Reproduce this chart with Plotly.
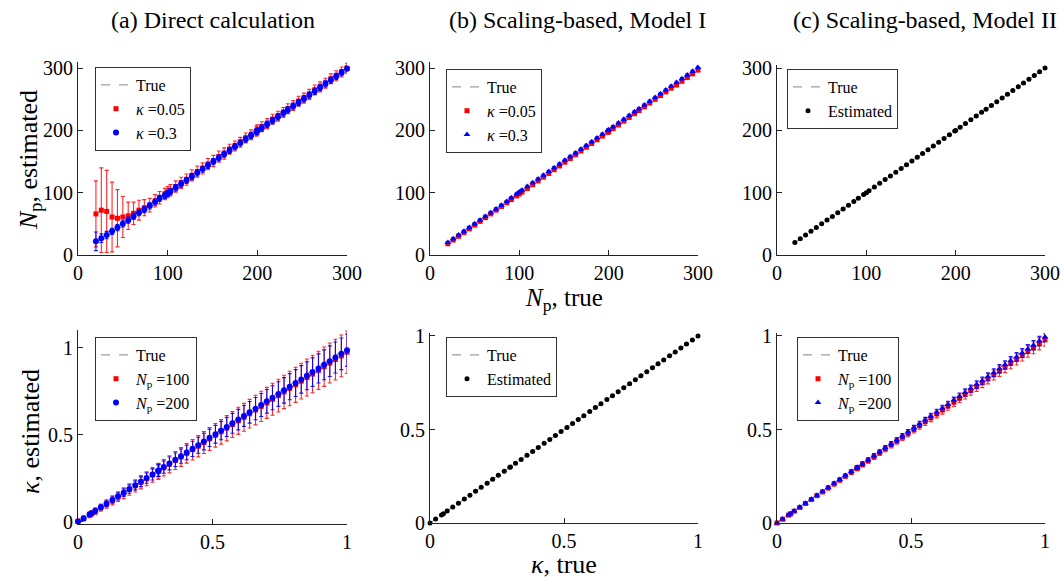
import plotly.graph_objects as go

# ---------------- data ----------------
NP_TRUE = [20, 26, 32, 38, 44, 50, 56, 62, 68, 74, 80, 86, 91, 97, 100, 103, 109, 115, 121, 127,
           133, 139, 145, 151, 157, 163, 169, 175, 181, 187, 193, 199, 200, 205, 211, 217, 223, 229, 234, 240,
           246, 252, 258, 264, 270, 276, 282, 288, 294, 300]

# (a) direct calculation, N_p
A_NP_K005 = [66, 72, 70, 61, 59, 61, 63, 67, 72, 76, 80, 87, 92, 98, 101, 104, 110, 116, 121, 128,
             134, 139, 146, 151, 158, 163, 170, 175, 181, 188, 193, 199, 201, 206, 211, 218, 223, 229, 235, 240,
             247, 252, 258, 265, 270, 276, 283, 288, 294, 300]
A_NP_K005_ERR = [53, 68, 66, 56, 46, 33, 22, 18, 16, 13, 11, 10, 10, 9, 9, 9, 9, 9, 9, 9,
                 9, 9, 9, 9, 9, 9, 8, 8, 8, 8, 8, 8, 8, 8, 8, 8, 8, 8, 8, 8,
                 8, 8, 8, 8, 8, 8, 8, 8, 8, 8]
A_NP_K03 = [22, 27, 32, 38, 44, 50, 56, 62, 68, 73, 79, 85, 91, 96, 99, 102, 108, 114, 120, 126,
            132, 138, 144, 150, 156, 162, 168, 174, 180, 186, 192, 198, 199, 204, 210, 216, 222, 228, 233, 239,
            245, 251, 257, 263, 269, 275, 281, 287, 293, 299]
A_NP_K03_ERR = [15, 7, 6, 5, 5, 5, 5, 5, 5, 5, 5, 5, 5, 5, 5, 5, 5, 5, 5, 5,
                5, 5, 5, 5, 5, 5, 5, 5, 5, 5, 5, 5, 5, 5, 5, 5, 5, 5, 5, 5,
                5, 5, 5, 5, 5, 5, 5, 5, 5, 5]

# (b) scaling-based Model I, N_p
B_NP_K005 = [18, 24, 30, 36, 42, 48, 54, 60, 66, 72, 78, 84, 89, 95, 98, 101, 107, 113, 119, 125,
             131, 137, 143, 149, 155, 161, 167, 173, 179, 185, 191, 197, 198, 203, 209, 215, 221, 227, 232, 238,
             244, 250, 256, 262, 268, 273, 279, 285, 291, 297]
B_NP_K03 = [20, 26, 32, 38, 44, 50, 56, 62, 68, 74, 80, 86, 92, 98, 101, 104, 110, 116, 122, 128,
            134, 140, 146, 152, 158, 164, 170, 176, 182, 188, 194, 200, 201, 206, 212, 218, 224, 230, 235, 241,
            247, 253, 259, 265, 271, 277, 283, 289, 295, 301]

# (c) scaling-based Model II, N_p
C_NP_EST = [20, 26, 32, 38, 44, 50, 56, 62, 68, 74, 80, 86, 91, 97, 100, 103, 109, 115, 121, 127,
            133, 139, 145, 151, 157, 163, 169, 175, 181, 187, 193, 199, 200, 205, 211, 217, 223, 229, 234, 240,
            246, 252, 258, 264, 270, 276, 282, 288, 294, 300]

KAPPA_TRUE = [0, 0.021, 0.043, 0.05, 0.064, 0.085, 0.106, 0.128, 0.149, 0.17,
              0.191, 0.213, 0.234, 0.255, 0.277, 0.298, 0.3, 0.319, 0.34, 0.362,
              0.383, 0.404, 0.426, 0.447, 0.468, 0.489, 0.511, 0.532, 0.553, 0.574,
              0.596, 0.617, 0.638, 0.66, 0.681, 0.702, 0.723, 0.745, 0.766, 0.787,
              0.809, 0.83, 0.851, 0.872, 0.894, 0.915, 0.936, 0.957, 0.979, 1.0]

# (a) direct calculation, kappa
A_K_NP100 = [0.004, 0.02, 0.041, 0.048, 0.062, 0.082, 0.103, 0.124, 0.145, 0.165,
             0.186, 0.207, 0.228, 0.248, 0.27, 0.29, 0.292, 0.311, 0.331, 0.353,
             0.373, 0.394, 0.415, 0.435, 0.456, 0.477, 0.498, 0.518, 0.539, 0.56,
             0.581, 0.601, 0.622, 0.643, 0.664, 0.684, 0.705, 0.726, 0.747, 0.767,
             0.788, 0.809, 0.83, 0.85, 0.871, 0.892, 0.913, 0.933, 0.954, 0.975]
A_K_NP100_ERR = [0.012, 0.014, 0.017, 0.018, 0.019, 0.021, 0.024, 0.026, 0.028, 0.031,
                 0.033, 0.035, 0.038, 0.040, 0.042, 0.045, 0.045, 0.047, 0.049, 0.052,
                 0.054, 0.056, 0.059, 0.061, 0.063, 0.066, 0.068, 0.071, 0.073, 0.075,
                 0.078, 0.080, 0.082, 0.085, 0.087, 0.089, 0.092, 0.094, 0.096, 0.099,
                 0.101, 0.103, 0.106, 0.108, 0.110, 0.113, 0.115, 0.117, 0.120, 0.122]
A_K_NP200 = [0.003, 0.021, 0.042, 0.049, 0.063, 0.084, 0.105, 0.126, 0.147, 0.168,
             0.189, 0.21, 0.231, 0.252, 0.273, 0.294, 0.296, 0.315, 0.336, 0.357,
             0.378, 0.399, 0.42, 0.441, 0.462, 0.483, 0.504, 0.525, 0.546, 0.567,
             0.588, 0.609, 0.63, 0.651, 0.672, 0.693, 0.714, 0.735, 0.756, 0.777,
             0.798, 0.819, 0.84, 0.861, 0.882, 0.903, 0.924, 0.945, 0.966, 0.987]
A_K_NP200_ERR = [0.008, 0.010, 0.012, 0.012, 0.013, 0.015, 0.017, 0.019, 0.021, 0.022,
                 0.024, 0.026, 0.028, 0.030, 0.032, 0.033, 0.034, 0.035, 0.037, 0.039,
                 0.041, 0.042, 0.044, 0.046, 0.048, 0.050, 0.051, 0.053, 0.055, 0.057,
                 0.059, 0.060, 0.062, 0.064, 0.066, 0.068, 0.069, 0.071, 0.073, 0.075,
                 0.077, 0.079, 0.080, 0.082, 0.084, 0.086, 0.088, 0.089, 0.091, 0.093]

# (b) scaling-based Model I, kappa
B_K_EST = [0, 0.021, 0.043, 0.05, 0.064, 0.085, 0.106, 0.128, 0.149, 0.17,
           0.191, 0.213, 0.234, 0.255, 0.277, 0.298, 0.3, 0.319, 0.34, 0.362,
           0.383, 0.404, 0.426, 0.447, 0.468, 0.489, 0.511, 0.532, 0.553, 0.574,
           0.596, 0.617, 0.638, 0.66, 0.681, 0.702, 0.723, 0.745, 0.766, 0.787,
           0.809, 0.83, 0.851, 0.872, 0.894, 0.915, 0.936, 0.957, 0.979, 1.0]

# (c) scaling-based Model II, kappa
C_K_NP100 = [0.0, 0.02, 0.042, 0.049, 0.063, 0.083, 0.104, 0.125, 0.146, 0.166,
             0.187, 0.208, 0.229, 0.25, 0.271, 0.292, 0.294, 0.313, 0.333, 0.354,
             0.375, 0.396, 0.417, 0.437, 0.458, 0.479, 0.5, 0.521, 0.542, 0.562,
             0.583, 0.604, 0.625, 0.646, 0.667, 0.687, 0.708, 0.729, 0.75, 0.771,
             0.792, 0.812, 0.833, 0.854, 0.875, 0.896, 0.917, 0.937, 0.958, 0.979]
C_K_NP100_ERR = [0.003, 0.004, 0.004, 0.005, 0.005, 0.006, 0.006, 0.007, 0.007, 0.008,
                 0.009, 0.009, 0.010, 0.011, 0.011, 0.012, 0.012, 0.013, 0.013, 0.014,
                 0.014, 0.015, 0.016, 0.016, 0.017, 0.018, 0.018, 0.019, 0.020, 0.020,
                 0.021, 0.022, 0.022, 0.023, 0.023, 0.024, 0.025, 0.025, 0.026, 0.027,
                 0.027, 0.028, 0.029, 0.029, 0.030, 0.030, 0.031, 0.032, 0.032, 0.033]
C_K_NP200 = [0.0, 0.021, 0.043, 0.05, 0.064, 0.085, 0.106, 0.127, 0.148, 0.169,
             0.19, 0.212, 0.233, 0.254, 0.275, 0.296, 0.298, 0.317, 0.338, 0.36,
             0.381, 0.402, 0.423, 0.444, 0.465, 0.486, 0.508, 0.529, 0.55, 0.571,
             0.592, 0.613, 0.634, 0.656, 0.677, 0.698, 0.719, 0.74, 0.761, 0.782,
             0.804, 0.825, 0.846, 0.867, 0.888, 0.909, 0.93, 0.951, 0.973, 0.994]
C_K_NP200_ERR = [0.002, 0.003, 0.003, 0.003, 0.004, 0.004, 0.005, 0.005, 0.006, 0.006,
                 0.007, 0.007, 0.008, 0.008, 0.009, 0.009, 0.009, 0.010, 0.010, 0.011,
                 0.011, 0.012, 0.012, 0.013, 0.013, 0.014, 0.014, 0.015, 0.015, 0.016,
                 0.016, 0.017, 0.017, 0.018, 0.018, 0.019, 0.019, 0.020, 0.020, 0.021,
                 0.021, 0.022, 0.022, 0.023, 0.023, 0.024, 0.024, 0.025, 0.025, 0.026]

TITLES = ["(a) Direct calculation", "(b) Scaling-based, Model I", "(c) Scaling-based, Model II"]
NP_TICKS = [0, 100, 200, 300]
K_TICKS = [0, 0.5, 1]
K_TICKTEXT = ["0", "0.5", "1"]

# ---------------- style ----------------
FONT = "Liberation Serif"
W, H = 1062, 580
RED = "#ff0000"
BLUE = "#0000ff"
RED_ERR = "rgba(255,0,0,0.85)"
BLUE_ERR = "rgba(0,0,255,0.9)"


def fx(p):
    return p / W


def fy(p):
    return 1 - p / H


fig = go.Figure()


def true_line(x, xa, ya, leg):
    fig.add_trace(go.Scatter(x=x, y=x, mode="lines", name="True",
                             line=dict(color="#888888", width=1, dash="dash"),
                             xaxis=xa, yaxis=ya, legend=leg, cliponaxis=False))


def err_trace(x, y, err, name, color, ecolor, symbol, size, xa, ya, leg):
    ey = dict(visible=True, color=ecolor, thickness=1.1, width=2)
    if isinstance(err, (int, float)):
        ey.update(type="constant", value=err)
    else:
        ey.update(type="data", array=err)
    fig.add_trace(go.Scatter(x=x, y=y, mode="markers", name=name,
                             marker=dict(color=color, symbol=symbol, size=size, line=dict(width=0)),
                             error_y=ey, xaxis=xa, yaxis=ya, legend=leg, cliponaxis=False))


KAP = "<i>κ</i>"
NP = "<i>N</i><sub>p</sub>"

# top row
true_line(NP_TRUE, "x", "y", "legend")
err_trace(NP_TRUE, A_NP_K005, A_NP_K005_ERR, KAP + " =0.05", RED, RED_ERR, "square", 5, "x", "y", "legend")
err_trace(NP_TRUE, A_NP_K03, A_NP_K03_ERR, KAP + " =0.3", BLUE, BLUE_ERR, "circle", 6, "x", "y", "legend")

true_line(NP_TRUE, "x2", "y2", "legend2")
err_trace(NP_TRUE, B_NP_K005, 2, KAP + " =0.05", RED, RED_ERR, "square", 5, "x2", "y2", "legend2")
err_trace(NP_TRUE, B_NP_K03, 2, KAP + " =0.3", BLUE, BLUE_ERR, "triangle-up", 6, "x2", "y2", "legend2")

true_line(NP_TRUE, "x3", "y3", "legend3")
err_trace(NP_TRUE, C_NP_EST, 1, "Estimated", "black", "black", "circle", 5, "x3", "y3", "legend3")

# bottom row
true_line(KAPPA_TRUE, "x4", "y4", "legend4")
err_trace(KAPPA_TRUE, A_K_NP100, A_K_NP100_ERR, NP + " =100", RED, RED_ERR, "square", 5, "x4", "y4", "legend4")
err_trace(KAPPA_TRUE, A_K_NP200, A_K_NP200_ERR, NP + " =200", BLUE, BLUE_ERR, "circle", 6, "x4", "y4", "legend4")

true_line(KAPPA_TRUE, "x5", "y5", "legend5")
err_trace(KAPPA_TRUE, B_K_EST, 0.003, "Estimated", "black", "black", "circle", 5, "x5", "y5", "legend5")

true_line(KAPPA_TRUE, "x6", "y6", "legend6")
err_trace(KAPPA_TRUE, C_K_NP100, C_K_NP100_ERR, NP + " =100", RED, RED_ERR, "square", 5, "x6", "y6", "legend6")
err_trace(KAPPA_TRUE, C_K_NP200, C_K_NP200_ERR, NP + " =200", BLUE, BLUE_ERR, "triangle-up", 6, "x6", "y6", "legend6")

# ---------------- axes ----------------
TICKFONT = dict(family=FONT, size=20, color="black")


def axis_common():
    return dict(showline=True, linecolor="#222222", linewidth=1, mirror=False,
                ticks="inside", ticklen=5, tickwidth=1, tickcolor="#222222",
                showgrid=False, zeroline=False, tickfont=TICKFONT, fixedrange=True,
                automargin=False)


XD = [(78, 347), (430, 698), (777, 1045)]
TOP_Y = [(62, 255, [0, 310]), (62, 255, [0, 310]), (65, 255, [0, 305])]
BOT_Y = [(330, 524, [-0.012, 1.103]), (333, 523, [0, 1.016]), (333, 523, [0, 1.016])]

layout_axes = {}
for i in range(3):
    n = i + 1
    xs = "xaxis" if n == 1 else f"xaxis{n}"
    ys = "yaxis" if n == 1 else f"yaxis{n}"
    ax = axis_common()
    ax.update(domain=[fx(XD[i][0]), fx(XD[i][1])], range=[0, 300], tickvals=NP_TICKS,
              anchor="y" if n == 1 else f"y{n}")
    layout_axes[xs] = ax
    ay = axis_common()
    ay.update(domain=[fy(TOP_Y[i][1]), fy(TOP_Y[i][0])], range=TOP_Y[i][2], tickvals=NP_TICKS,
              anchor="x" if n == 1 else f"x{n}")
    layout_axes[ys] = ay

for i in range(3):
    n = i + 4
    ax = axis_common()
    ax.update(domain=[fx(XD[i][0]), fx(XD[i][1])], range=[0, 1], tickvals=K_TICKS, ticktext=K_TICKTEXT,
              anchor=f"y{n}")
    layout_axes[f"xaxis{n}"] = ax
    ay = axis_common()
    ay.update(domain=[fy(BOT_Y[i][1]), fy(BOT_Y[i][0])], range=BOT_Y[i][2], tickvals=K_TICKS,
              ticktext=K_TICKTEXT, anchor=f"x{n}")
    layout_axes[f"yaxis{n}"] = ay


def legend_at(px, py):
    return dict(x=fx(px), y=fy(py), xanchor="left", yanchor="top", xref="paper", yref="paper",
                bgcolor="white", bordercolor="#333333", borderwidth=1,
                font=dict(family=FONT, size=16, color="black"),
                itemwidth=30, tracegroupgap=0, traceorder="normal")


annotations = []
TITLE_X = [213, 577, 925]
for t, cx in zip(TITLES, TITLE_X):
    annotations.append(dict(text=t, x=fx(cx), y=fy(20), xref="paper", yref="paper",
                            showarrow=False, xanchor="center", yanchor="middle",
                            font=dict(family=FONT, size=24, color="black")))
annotations.append(dict(text=NP + ", true", x=fx(564), y=fy(299), xref="paper", yref="paper",
                        showarrow=False, xanchor="center", yanchor="middle",
                        font=dict(family=FONT, size=25, color="black")))
annotations.append(dict(text=KAP + ", true", x=fx(564), y=fy(564), xref="paper", yref="paper",
                        showarrow=False, xanchor="center", yanchor="middle",
                        font=dict(family=FONT, size=26, color="black")))
annotations.append(dict(text=NP + ", estimated", x=fx(30), y=fy(160), xref="paper", yref="paper",
                        showarrow=False, xanchor="center", yanchor="middle", textangle=-90,
                        font=dict(family=FONT, size=26, color="black")))
annotations.append(dict(text=KAP + ", estimated", x=fx(30), y=fy(432), xref="paper", yref="paper",
                        showarrow=False, xanchor="center", yanchor="middle", textangle=-90,
                        font=dict(family=FONT, size=26, color="black")))

fig.update_layout(
    width=W, height=H, margin=dict(l=0, r=0, t=0, b=0, autoexpand=False),
    paper_bgcolor="white", plot_bgcolor="white",
    font=dict(family=FONT, color="black"),
    showlegend=True,
    legend=legend_at(95, 67),
    legend2=legend_at(446, 69),
    legend3=legend_at(787, 69),
    legend4=legend_at(95, 337),
    legend5=legend_at(446, 337),
    legend6=legend_at(797, 337),
    annotations=annotations,
    **layout_axes,
)

# remove the browser's default page margin so the 1062x580 figure fills the window exactly
fig.write_html("out.html",
               config={"displayModeBar": False},
               post_script="document.body.style.margin='0';document.body.style.overflow='hidden';")
